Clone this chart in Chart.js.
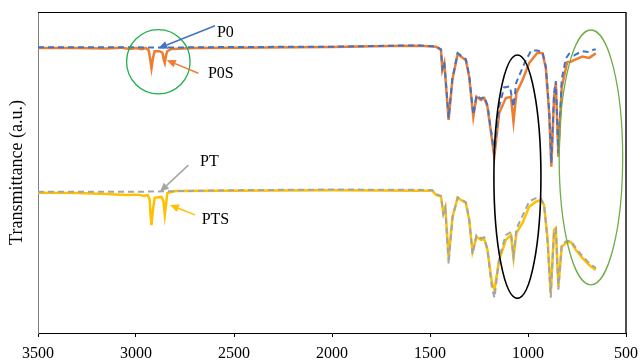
<!DOCTYPE html>
<html>
<head>
<meta charset="utf-8">
<script src="https://cdn.jsdelivr.net/npm/chart.js@4.4.1/dist/chart.umd.min.js"></script>
<style>
html,body{margin:0;padding:0;background:#fff;}
#wrap{width:640px;height:363px;position:relative;}
</style>
</head>
<body>
<div id="wrap"><canvas id="c" width="640" height="363"></canvas></div>
<script>
// X axis (wavenumber) ticks
const xTicks = [3500, 3000, 2500, 2000, 1500, 1000, 500];

// P0 (blue dashed) [wavenumber, transmittance a.u.]
const p0 = [[3500,89.0],[3000,89.0],[2900,88.9],[2500,89.1],[2000,89.2],[1700,89.5],[1554,89.6],[1469,89.3],[1444,88.4],[1437,82.5],[1427,84.5],[1405,67.0],[1386,79.2],[1359,87.2],[1317,85.3],[1300,80.2],[1279,68.0],[1263,74.0],[1240,73.0],[1223,73.6],[1207,71.0],[1172,56.0],[1147,70.5],[1122,76.5],[1092,76.8],[1074,70.5],[1060,78.0],[1011,85.0],[984,88.0],[952,88.0],[926,87.5],[909,83.0],[892,69.5],[881,53.0],[867,74.5],[858,78.5],[845,56.0],[828,79.0],[807,85.5],[790,87.0],[765,86.5],[724,87.8],[690,87.5],[663,88.3],[654,88.3]];

// P0S (orange solid)
const p0s = [[3500,88.8],[3300,88.8],[3150,88.6],[3080,88.9],[3030,88.5],[3000,88.8],[2970,88.4],[2950,88.8],[2935,88.0],[2927,85.0],[2921,82.5],[2914,85.5],[2905,87.8],[2880,87.8],[2865,87.3],[2858,85.0],[2853,84.1],[2847,86.5],[2840,87.8],[2820,88.5],[2700,88.8],[2500,88.9],[2000,89.1],[1700,89.4],[1554,89.5],[1469,89.2],[1444,88.2],[1437,81.9],[1427,84.1],[1405,66.4],[1386,78.8],[1359,86.9],[1317,85.0],[1300,79.8],[1279,67.3],[1263,73.6],[1240,72.6],[1223,73.2],[1207,70.5],[1172,54.9],[1147,68.5],[1113,73.2],[1087,73.6],[1074,65.8],[1059,74.8],[1028,78.8],[994,84.1],[952,87.3],[926,87.2],[909,82.5],[892,68.5],[881,51.8],[867,73.6],[858,77.9],[845,54.9],[828,76.6],[800,84.4],[782,84.5],[765,85.0],[723,86.1],[688,85.7],[654,87.1]];

// PT (gray dashed)
const pt = [[3500,44.0],[3000,44.0],[2900,44.1],[2500,44.5],[2000,44.7],[1554,44.6],[1488,44.5],[1469,43.3],[1444,42.7],[1432,37.0],[1422,39.0],[1405,21.5],[1385,36.0],[1359,42.3],[1317,40.8],[1300,35.5],[1283,24.5],[1263,30.5],[1240,29.5],[1223,29.8],[1207,26.0],[1184,14.0],[1171,11.0],[1147,23.5],[1113,30.5],[1087,31.5],[1074,24.0],[1059,32.5],[1028,36.5],[994,41.0],[960,42.0],[935,42.0],[918,40.0],[901,29.0],[884,11.0],[867,32.0],[858,32.5],[845,13.5],[828,27.5],[807,28.5],[782,28.8],[756,26.5],[723,24.0],[688,21.8],[654,20.2]];

// PTS (yellow solid)
const pts = [[3500,43.7],[3300,43.6],[3150,43.3],[3050,43.0],[2990,43.1],[2960,42.7],[2940,43.0],[2930,41.5],[2926,37.0],[2921,33.6],[2915,37.5],[2905,42.1],[2870,42.4],[2860,41.0],[2853,36.8],[2847,40.0],[2840,43.6],[2800,44.2],[2500,44.3],[2000,44.5],[1554,44.3],[1488,44.3],[1469,43.0],[1444,42.5],[1432,37.4],[1422,39.2],[1405,23.4],[1385,36.2],[1359,42.1],[1317,40.5],[1300,35.2],[1283,25.3],[1263,30.0],[1240,29.0],[1223,29.3],[1207,25.9],[1184,15.6],[1171,13.4],[1147,22.7],[1113,29.0],[1087,30.5],[1074,23.4],[1059,31.2],[1028,34.3],[994,39.3],[960,40.9],[935,41.4],[918,39.9],[901,30.0],[884,12.5],[867,32.1],[858,32.7],[845,14.4],[828,26.9],[807,28.0],[782,28.4],[756,25.9],[723,23.4],[688,21.2],[654,19.6]];

// Annotations in data units
const labels = [
  {text:'P0',  x:2587, y:93.5, color:'#4472C4', from:[2597,95.7], to:[2886,88.7]},
  {text:'P0S', x:2633, y:80.9, color:'#ED7D31', from:[2682,80.9], to:[2843,85.0]},
  {text:'PT',  x:2673, y:53.4, color:'#A5A5A5', from:[2733,52.3], to:[2878,44.0]},
  {text:'PTS', x:2665, y:35.2, color:'#FFC000', from:[2699,36.8], to:[2827,39.9]}
];
const ellipses = [
  {cx:2886, cy:84.5, rx:162, ry:10.0, color:'#1FAF4B', w:1.3},
  {cx:1054, cy:48.7, rx:120, ry:37.9, color:'#000000', w:1.6},
  {cx:679,  cy:54.7, rx:162, ry:39.7, color:'#70AD47', w:1.3}
];

const toXY = a => a.map(p => ({x:p[0], y:p[1]}));

const deco = {
  id:'deco',
  afterDatasetsDraw(chart){
    const {ctx, chartArea:a, scales:{x, y}} = chart;
    ctx.save();
    // frame top & right
    ctx.strokeStyle = '#000'; ctx.lineWidth = 1;
    ctx.beginPath(); ctx.moveTo(a.left, a.top + 0.5); ctx.lineTo(a.right, a.top + 0.5); ctx.stroke();
    ctx.strokeStyle = '#222'; ctx.lineWidth = 1.6;
    ctx.beginPath(); ctx.moveTo(a.right, a.top); ctx.lineTo(a.right, a.bottom); ctx.stroke();
    // ellipses
    ellipses.forEach(e => {
      const cx = x.getPixelForValue(e.cx), cy = y.getPixelForValue(e.cy);
      const rx = Math.abs(x.getPixelForValue(e.cx + e.rx) - cx);
      const ry = Math.abs(y.getPixelForValue(e.cy + e.ry) - cy);
      ctx.strokeStyle = e.color; ctx.lineWidth = e.w;
      ctx.beginPath(); ctx.ellipse(cx, cy, rx, ry, 0, 0, Math.PI*2); ctx.stroke();
    });
    // arrows + labels
    ctx.font = '16px "Liberation Serif", "Times New Roman", serif';
    ctx.textBaseline = 'middle'; ctx.textAlign = 'left';
    labels.forEach(l => {
      const x1 = x.getPixelForValue(l.from[0]), y1 = y.getPixelForValue(l.from[1]);
      const x2 = x.getPixelForValue(l.to[0]), y2 = y.getPixelForValue(l.to[1]);
      const ang = Math.atan2(y2 - y1, x2 - x1);
      const hl = 9, hw = 4;
      const bx = x2 - hl*Math.cos(ang), by = y2 - hl*Math.sin(ang);
      ctx.strokeStyle = l.color; ctx.fillStyle = l.color; ctx.lineWidth = 1.5;
      ctx.beginPath(); ctx.moveTo(x1, y1); ctx.lineTo(bx, by); ctx.stroke();
      ctx.beginPath();
      ctx.moveTo(x2, y2);
      ctx.lineTo(bx + hw*Math.sin(ang), by - hw*Math.cos(ang));
      ctx.lineTo(bx - hw*Math.sin(ang), by + hw*Math.cos(ang));
      ctx.closePath(); ctx.fill();
      ctx.fillStyle = '#000';
      ctx.fillText(l.text, x.getPixelForValue(l.x), y.getPixelForValue(l.y));
    });
    // y title
    ctx.translate(17, (a.top + a.bottom) / 2);
    ctx.rotate(-Math.PI/2);
    ctx.textAlign = 'center';
    ctx.font = '18px "Liberation Serif", "Times New Roman", serif';
    ctx.fillStyle = '#000';
    ctx.fillText('Transmittance (a.u.)', 0, 0);
    ctx.restore();
  }
};

new Chart(document.getElementById('c'), {
  type:'line',
  data:{
    datasets:[
      {label:'P0', data:toXY(p0), borderColor:'#4472C4', borderWidth:2, borderDash:[6,4], pointRadius:0, order:1},
      {label:'P0S', data:toXY(p0s), borderColor:'#ED7D31', borderWidth:2.5, pointRadius:0, order:2},
      {label:'PT', data:toXY(pt), borderColor:'#A5A5A5', borderWidth:2, borderDash:[6,4], pointRadius:0, order:1},
      {label:'PTS', data:toXY(pts), borderColor:'#FFC000', borderWidth:2.5, pointRadius:0, order:2}
    ]
  },
  options:{
    responsive:false,
    animation:false,
    layout:{padding:{left:0, top:12, right:14, bottom:0}},
    plugins:{legend:{display:false}, tooltip:{enabled:false}},
    elements:{line:{tension:0}},
    scales:{
      x:{
        type:'linear', reverse:true, min:500, max:3500,
        afterBuildTicks(s){ s.ticks = xTicks.map(v => ({value:v})); },
        afterFit(s){ s.height = 30; s.paddingRight = 0; s.paddingLeft = 0; },
        ticks:{color:'#000', padding:7, maxRotation:0, autoSkip:false,
               callback:(v) => String(v),
               font:{family:'"Liberation Serif", "Times New Roman", serif', size:16}},
        grid:{display:true, drawOnChartArea:false, drawTicks:true, tickLength:4, color:'#000'},
        border:{display:true, color:'#000', width:1}
      },
      y:{
        type:'linear', min:0, max:100,
        afterFit(s){ s.width = 38; },
        ticks:{display:false},
        grid:{display:false, drawTicks:false},
        border:{display:true, color:'#7f7f7f', width:1}
      }
    }
  },
  plugins:[deco]
});
</script>
</body>
</html>
